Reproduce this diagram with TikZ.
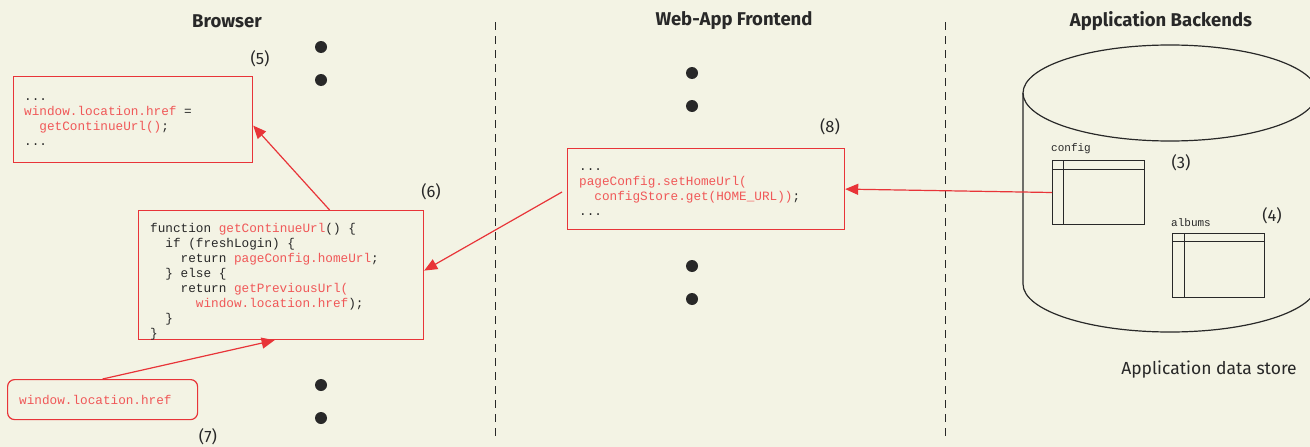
\documentclass[tikz,border=0pt]{standalone}
\usepackage{fontspec}
\setmainfont{Fira Sans}
\setmonofont{Liberation Mono}
\usetikzlibrary{arrows.meta}
\definecolor{bgc}{RGB}{243,243,228}
\definecolor{boxred}{RGB}{232,52,56}
\definecolor{codered}{RGB}{240,88,88}
\definecolor{ink}{RGB}{40,40,40}
\newcommand\cred[1]{\textcolor{codered}{#1}}
\newcommand\ind{\hspace*{1.2em}}
\begin{document}
\begin{tikzpicture}[x=1pt,y=-1pt,
  codebox/.style={draw=boxred,line width=1.2pt,rectangle,inner sep=0pt,anchor=north west},
  code/.style={font=\ttfamily\fontsize{12.7}{15}\selectfont,text=ink,align=left,anchor=north west,inner sep=0pt},
  hdr/.style={font=\bfseries\fontsize{18.5}{22}\selectfont,text=ink},
  lbl/.style={font=\fontsize{16.5}{19}\selectfont,text=ink},
  tbl/.style={draw=ink,line width=1pt,rectangle,inner sep=0pt,anchor=north west,minimum width=92pt,minimum height=64pt},
  tname/.style={font=\ttfamily\fontsize{11}{13}\selectfont,text=ink,anchor=west,inner sep=0pt},
  dot/.style={circle,fill=ink,inner sep=0pt,minimum size=12pt},
  arr/.style={draw=boxred,line width=1.2pt,-{Triangle[length=13pt,width=11pt]}},
  sep/.style={draw=ink,line width=1pt,dash pattern=on 8pt off 6pt}]
\fill[bgc] (0,0) rectangle (1310,447);
\useasboundingbox (0,0) rectangle (1310,447);

% headers
\node[hdr] (h1) at (227,21) {Browser};
\node[hdr] (h2) at (734,21) {Web-App Frontend};
\node[hdr] (h3) at (1161,21) {Application Backends};

% separators
\draw[sep] (495,22) -- (495,440);
\draw[sep] (945,22) -- (945,440);

% dots
\foreach \y [count=\i] in {47,80,385,418} \node[dot] (da\i) at (321,\y) {};
\foreach \y [count=\i] in {73,106,266,299} \node[dot] (db\i) at (692,\y) {};

% box 5
\node[codebox,minimum width=239pt,minimum height=86pt] (b5) at (13,76) {};
\node[code] (t5) at (24,98) {...\\\cred{window.location.href} =\\\ind\cred{getContinueUrl()};\\...};
\node[lbl] (l5) at (260,59) {(5)};

% box 6
\node[codebox,minimum width=285pt,minimum height=129pt] (b6) at (138,210) {};
\node[code] (t6) at (150,223) {function \cred{getContinueUrl}() \{\\
\ind if (freshLogin) \{\\
\ind\ind return \cred{pageConfig.homeUrl};\\
\ind \} else \{\\
\ind\ind return \cred{getPreviousUrl(}\\
\ind\ind\ind\cred{window.location.href});\\
\ind \}\\
\}};
\node[lbl] (l6) at (431,192) {(6)};

% box 7
\node[draw=boxred,line width=1.2pt,rounded corners=7pt,anchor=north west,minimum width=190pt,minimum height=40pt,inner sep=0pt] (b7) at (7,379) {};
\node[code,anchor=west,text=codered] (t7) at (19,400) {window.location.href};
\node[lbl] (l7) at (208,437) {(7)};

% box 8
\node[codebox,minimum width=277pt,minimum height=81pt] (b8) at (567,148) {};
\node[code] (t8) at (579,168) {...\\\cred{pageConfig.setHomeUrl(}\\\ind\cred{configStore.get(HOME\_URL))};\\...};
\node[lbl] (l8) at (830,127) {(8)};

% cylinder
\draw[ink,line width=1.2pt] (1170,93) ellipse[x radius=147pt,y radius=48pt];
\draw[ink,line width=1.2pt] (1023,93) -- (1023,284) arc[start angle=180,end angle=360,x radius=147pt,y radius=48pt] -- (1317,93);
\node[lbl,font=\fontsize{17.5}{20}\selectfont] (ds) at (1209,370) {Application data store};

% tables
\node[tbl] (cfg) at (1052,160) {};
\draw[ink,line width=1pt] (1052,169) -- (1144,169) (1063,160) -- (1063,224);
\node[tname] (cfgn) at (1051,149) {config};
\node[lbl] (l3) at (1181,163) {(3)};

\node[tbl] (alb) at (1172,233) {};
\draw[ink,line width=1pt] (1172,241) -- (1264,241) (1184,233) -- (1184,297);
\node[tname] (albn) at (1171,223) {albums};
\node[lbl] (l4) at (1272,216) {(4)};

% arrows
\coordinate (s2) at (562,192);
\draw[arr] ([xshift=48.5pt]b6.north) -- ([yshift=-6pt]b5.east);
\draw[arr] (s2) -- ([yshift=4.5pt]b6.east);
\draw[arr] (cfg.west) -- (b8.east);
\draw[arr] (b7.north) -- ([xshift=-6.5pt]b6.south);
\end{tikzpicture}
\end{document}
